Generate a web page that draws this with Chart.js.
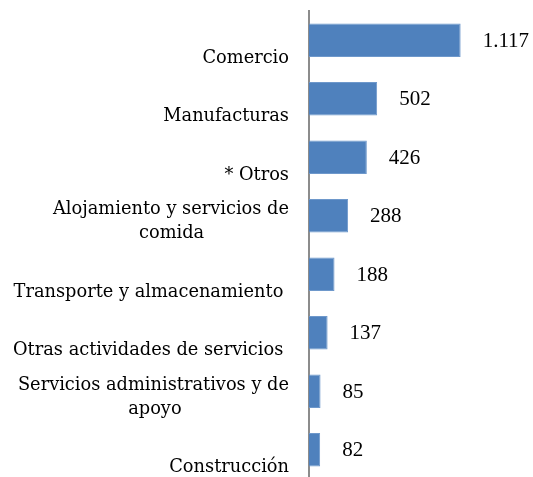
<!DOCTYPE html>
<html>
<head>
<meta charset="utf-8">
<script src="https://cdn.jsdelivr.net/npm/chart.js@4/dist/chart.umd.min.js"></script>
<style>
html,body{margin:0;padding:0;background:#fff;overflow:hidden;}
canvas{display:block;}
</style>
</head>
<body>
<canvas id="c" width="533" height="490" style="width:533px;height:490px"></canvas>
<script>
// Data
const categories = [
  ['', 'Comercio'],
  ['', 'Manufacturas'],
  ['', '* Otros'],
  ['Alojamiento y servicios de', 'comida'],
  ['', 'Transporte y almacenamiento '],
  ['', 'Otras actividades de servicios '],
  ['Servicios administrativos y de', 'apoyo'],
  ['', 'Construcción']
];
const values = [1117, 502, 426, 288, 188, 137, 85, 82];
const xMax = 1650;

const FONT = "'DejaVu Serif', serif";
const VALUE_FONT = "'Liberation Serif', serif";
const LABEL_SIZE = 17.8;

function fmt(v){
  return String(v).replace(/\B(?=(\d{3})+(?!\d))/g, '.');
}

// center second lines of two-line labels under the first line (right aligned text)
const ctxM = document.createElement('canvas').getContext('2d');
ctxM.font = LABEL_SIZE + "px " + FONT;
const labels = categories.map(l => {
  if (l[0] === '') return l;
  const w1 = ctxM.measureText(l[0]).width;
  const w2 = ctxM.measureText(l[1]).width;
  const sp = ctxM.measureText('\u00A0').width;
  const n = Math.max(0, Math.round(((w1 - w2) / 2) / sp));
  return [l[0], l[1] + '\u00A0'.repeat(n)];
});

const valueLabels = {
  id: 'valueLabels',
  afterDatasetsDraw(chart){
    const {ctx} = chart;
    const meta = chart.getDatasetMeta(0);
    ctx.save();
    ctx.font = "21px " + VALUE_FONT;
    ctx.fillStyle = '#000';
    ctx.textAlign = 'left';
    ctx.textBaseline = 'middle';
    meta.data.forEach((bar, i) => {
      ctx.fillText(fmt(values[i]), bar.x + 22, bar.y + 1);
    });
    ctx.restore();
  }
};

new Chart(document.getElementById('c'), {
  type: 'bar',
  data: {
    labels: labels,
    datasets: [{
      data: values,
      backgroundColor: '#4F81BD',
      borderColor: '#6E98CB',
      borderWidth: 1,
      barPercentage: 0.57,
      categoryPercentage: 1
    }]
  },
  options: {
    indexAxis: 'y',
    responsive: false,
    maintainAspectRatio: false,
    animation: false,
    devicePixelRatio: 1,
    layout: {padding: {top: 11, bottom: 11, left: 0, right: 0}},
    plugins: {legend: {display: false}, tooltip: {enabled: false}},
    scales: {
      x: {display: false, min: 0, max: xMax},
      y: {
        grid: {display: false, drawTicks: false},
        border: {display: true, color: '#8C8C8C', width: 2},
        afterFit(scale){
          scale.width = 309;
          scale.paddingTop = 0;
          scale.paddingBottom = 0;
        },
        ticks: {
          color: '#000',
          font: {family: FONT, size: LABEL_SIZE, lineHeight: 1.35},
          padding: 20,
          labelOffset: 6,
          autoSkip: false
        }
      }
    }
  },
  plugins: [valueLabels]
});
</script>
</body>
</html>
